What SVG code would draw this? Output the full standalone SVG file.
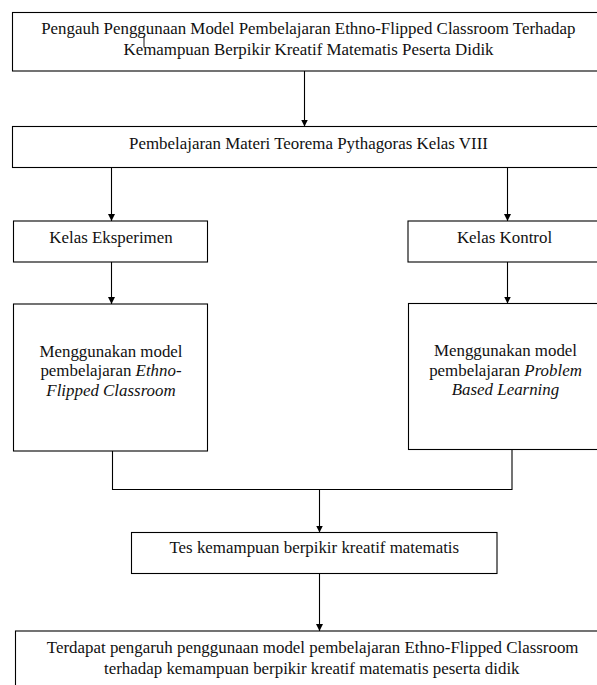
<svg xmlns="http://www.w3.org/2000/svg" width="597" height="685" viewBox="0 0 597 685">
<style>
.box{fill:#fff;stroke:#000;stroke-width:1.1}
.ln{fill:none;stroke:#000;stroke-width:1.1}
.t{font-family:"Liberation Serif","Times New Roman",serif;font-size:16.9px;fill:#111;text-anchor:middle}
.i{font-style:italic}
</style>
<defs>
<marker id="ah" markerUnits="userSpaceOnUse" markerWidth="8" markerHeight="8" refX="7" refY="3.5" orient="auto">
<path d="M0,0 L7,3.5 L0,7 z" fill="#000"/>
</marker>
</defs>
<rect width="597" height="685" fill="#fff"/>
<g id="connectors">
<line class="ln" x1="304.5" y1="71" x2="304.5" y2="126.5" marker-end="url(#ah)"/>
<line class="ln" x1="111.5" y1="167.5" x2="111.5" y2="221" marker-end="url(#ah)"/>
<line class="ln" x1="507.5" y1="167.5" x2="507.5" y2="221" marker-end="url(#ah)"/>
<line class="ln" x1="111.5" y1="262" x2="111.5" y2="304" marker-end="url(#ah)"/>
<line class="ln" x1="507.5" y1="262" x2="507.5" y2="303.5" marker-end="url(#ah)"/>
<polyline class="ln" points="112.5,451 112.5,489.5 512,489.5 512,449.5"/>
<line class="ln" x1="319.5" y1="489.5" x2="319.5" y2="532.5" marker-end="url(#ah)"/>
<line class="ln" x1="319.5" y1="573.5" x2="319.5" y2="631" marker-end="url(#ah)"/>
</g>
<g id="n-title">
<rect class="box" x="12.5" y="12.5" width="592" height="58.5"/>
<text class="t" x="308.3" y="33.5">Pengauh Penggunaan Model Pembelajaran Ethno-Flipped Classroom Terhadap</text>
<text class="t" x="308.5" y="54.5">Kemampuan Berpikir Kreatif Matematis Peserta Didik</text>
<line x1="144" y1="36" x2="144" y2="47" stroke="#000" stroke-width="0.9"/>
</g>
<g id="n-materi">
<rect class="box" x="12.5" y="126.5" width="592" height="41"/>
<text class="t" x="308.5" y="148.5">Pembelajaran Materi Teorema Pythagoras Kelas VIII</text>
</g>
<g id="n-eksperimen">
<rect class="box" x="13.5" y="221" width="194" height="41"/>
<text class="t" x="111" y="243">Kelas Eksperimen</text>
</g>
<g id="n-kontrol">
<rect class="box" x="408" y="221" width="195" height="41"/>
<text class="t" x="504.5" y="243">Kelas Kontrol</text>
</g>
<g id="n-efc">
<rect class="box" x="13.5" y="304" width="194" height="147"/>
<text class="t" x="111" y="356.5">Menggunakan model</text>
<text class="t" x="111" y="376">pembelajaran <tspan class="i">Ethno-</tspan></text>
<text class="t i" x="111" y="395.5">Flipped Classroom</text>
</g>
<g id="n-pbl">
<rect class="box" x="408.5" y="303.5" width="195" height="146"/>
<text class="t" x="505.5" y="356">Menggunakan model</text>
<text class="t" x="505.5" y="375.5">pembelajaran <tspan class="i">Problem</tspan></text>
<text class="t i" x="505.5" y="395">Based Learning</text>
</g>
<g id="n-tes">
<rect class="box" x="131.5" y="532.5" width="365.5" height="41"/>
<text class="t" x="314.3" y="552.7">Tes kemampuan berpikir kreatif matematis</text>
</g>
<g id="n-hasil">
<rect class="box" x="15.5" y="631" width="592" height="64"/>
<text class="t" x="312.7" y="652.7">Terdapat pengaruh penggunaan model pembelajaran Ethno-Flipped Classroom</text>
<text class="t" x="311.8" y="674">terhadap kemampuan berpikir kreatif matematis peserta didik</text>
</g>
</svg>
